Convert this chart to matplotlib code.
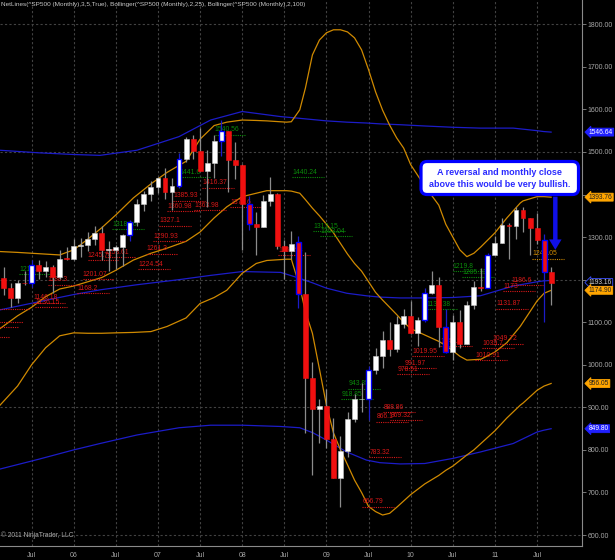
"""S&P 500 monthly candles with NetLines and two Bollinger bands (NinjaTrader look)."""

import matplotlib

matplotlib.use("Agg")
import matplotlib.pyplot as plt
from matplotlib import transforms
from matplotlib.patches import FancyBboxPatch

# month index: 0 = Jan 2006
MONTHS = list(range(-11, 69))
OPEN = [1181.3, 1203.6, 1180.6, 1156.9, 1191.5, 1191.3, 1234.2, 1220.3, 1228.8, 1207.0, 1249.5,
        1248.3, 1280.1, 1280.7, 1294.9, 1310.6, 1270.1, 1270.2, 1276.7, 1303.8, 1335.8, 1377.9, 1400.6,
        1418.3, 1438.2, 1406.8, 1420.9, 1482.4, 1530.6, 1503.4, 1455.3, 1474.0, 1526.8, 1549.4, 1481.1,
        1468.4, 1378.6, 1330.6, 1322.7, 1385.6, 1400.4, 1280.0, 1267.4, 1287.8, 1166.4, 968.8, 896.2,
        903.3, 825.9, 735.1, 797.9, 872.8, 919.1, 919.3, 987.5, 1020.6, 1057.1, 1036.2, 1095.6,
        1115.1, 1073.9, 1104.5, 1169.4, 1186.7, 1089.4, 1030.7, 1101.6, 1049.3, 1141.2, 1183.3, 1180.6,
        1257.6, 1286.1, 1327.2, 1325.8, 1363.6, 1345.2, 1320.6, 1292.3, 1218.9]
HIGH = [1212.4, 1229.1, 1191.9, 1199.6, 1219.6, 1245.2, 1245.9, 1243.1, 1233.3, 1270.6, 1275.8,
        1294.9, 1297.6, 1310.9, 1326.7, 1326.7, 1290.7, 1280.4, 1306.7, 1340.0, 1389.5, 1407.9, 1431.8,
        1441.6, 1461.6, 1438.9, 1498.0, 1535.6, 1540.6, 1555.9, 1503.9, 1538.7, 1576.1, 1549.4, 1523.6,
        1471.8, 1396.0, 1359.7, 1397.8, 1440.2, 1404.0, 1292.2, 1313.2, 1303.0, 1264.3, 1007.5, 918.9,
        943.9, 875.0, 833.0, 888.7, 930.2, 956.2, 996.7, 1039.5, 1080.2, 1101.4, 1113.7, 1130.4,
        1150.5, 1112.4, 1180.7, 1219.8, 1205.1, 1131.2, 1115.8, 1129.2, 1148.7, 1196.1, 1227.1, 1262.6,
        1302.7, 1344.1, 1332.3, 1370.6, 1370.6, 1345.2, 1356.5, 1307.4, 1229.3]
LOW = [1180.0, 1163.7, 1136.2, 1146.2, 1188.3, 1183.6, 1201.1, 1205.4, 1168.2, 1201.1, 1246.6,
       1245.7, 1253.6, 1268.4, 1280.6, 1245.3, 1219.3, 1224.5, 1233.2, 1290.9, 1327.1, 1361.0, 1385.9,
       1403.9, 1389.4, 1364.0, 1416.4, 1476.7, 1484.2, 1454.3, 1370.6, 1439.3, 1489.6, 1406.1, 1435.7,
       1270.1, 1316.8, 1257.0, 1322.7, 1373.1, 1272.0, 1200.4, 1248.6, 1133.5, 839.8, 741.0, 815.7,
       804.5, 734.5, 666.8, 783.3, 866.1, 888.9, 869.3, 978.5, 992.0, 1020.0, 1029.4, 1085.9,
       1071.6, 1044.5, 1101.0, 1167.0, 1040.8, 1028.3, 1010.9, 1039.7, 1049.3, 1131.9, 1173.0, 1180.6,
       1257.6, 1286.1, 1249.1, 1294.7, 1311.8, 1258.1, 1282.9, 1101.5, 1140.1]
CLOSE = [1203.6, 1180.6, 1156.9, 1191.5, 1191.3, 1234.2, 1220.3, 1228.8, 1207.0, 1249.5, 1248.3,
         1280.1, 1280.7, 1294.9, 1310.6, 1270.1, 1270.2, 1276.7, 1303.8, 1335.8, 1377.9, 1400.6, 1418.3,
         1438.2, 1406.8, 1420.9, 1482.4, 1530.6, 1503.4, 1455.3, 1474.0, 1526.8, 1549.4, 1481.1, 1468.4,
         1378.6, 1330.6, 1322.7, 1385.6, 1400.4, 1280.0, 1267.4, 1282.8, 1166.4, 968.8, 896.2, 903.3,
         825.9, 735.1, 797.9, 872.8, 919.1, 919.3, 987.5, 1020.6, 1057.1, 1036.2, 1095.6, 1115.1,
         1073.9, 1104.5, 1169.4, 1186.7, 1089.4, 1030.7, 1101.6, 1049.3, 1141.2, 1183.3, 1180.6, 1257.6,
         1286.1, 1327.2, 1325.8, 1363.6, 1345.2, 1320.6, 1292.3, 1218.9, 1193.2]
SIGNAL_MONTHS = [-6, 8, 15, 21, 25, 32, 42, 50, 53, 59, 67]

# Bollinger(2,25)
BB25_M = [-10.5, -8, -6, -4, -2, 0, 2, 4, 6, 8.5, 11, 13.3, 16, 18, 20, 21.8, 24, 26, 27.5, 30.3,
          31, 32.2, 33, 34, 35, 36, 37, 38, 39, 40, 41, 42, 43, 44, 45, 46, 47, 48, 50, 52, 53, 54,
          55, 56, 57, 58, 60, 61.7, 63.6, 64, 66, 67, 68]
BB25_UP = [1266, 1264, 1262, 1260, 1258, 1270, 1295, 1322, 1352, 1392, 1425, 1452, 1478, 1530, 1562, 1570,
           1575, 1574, 1573, 1570, 1571, 1599, 1650, 1728, 1763, 1780, 1787, 1787, 1782, 1768, 1740, 1693,
           1641, 1598, 1563, 1533, 1509, 1470, 1420, 1375, 1330, 1300, 1270, 1254, 1262, 1277, 1310, 1345,
           1380, 1385, 1395, 1395, 1393.76]
BB25_MID = [1085, 1115, 1135, 1160, 1178, 1185, 1195, 1205, 1222, 1246, 1262, 1274, 1290, 1312, 1345, 1371,
            1395, 1403, 1409, 1409, 1408, 1403, 1388, 1368, 1350, 1330, 1310, 1285, 1260, 1238, 1220, 1195,
            1170, 1152, 1135, 1118, 1100, 1085, 1070, 1055, 1045, 1033, 1020, 1011, 1012, 1013, 1030, 1052,
            1090, 1100, 1150, 1168, 1174.9]
BB25_LOW = [905, 950, 1000, 1040, 1068, 1075, 1074, 1074, 1075, 1076, 1078, 1090, 1110, 1144, 1158, 1175,
            1215, 1238, 1245, 1248, 1248, 1183, 1125, 1074, 990, 905, 840, 800, 765, 729, 700, 667,
            655, 647, 651, 665, 680, 695, 720, 740, 752, 762, 775, 788, 800, 815, 845, 875, 905, 910, 940,
            950, 956.05]

# Bollinger(2,100)
BB100_M = [-10.5, -5, 0, 3.75, 9, 15, 19.5, 24, 29.5, 32.2, 34.1, 36, 38.9, 41.7, 43.6, 46.5, 50, 54,
           57.9, 62.6, 66, 66.9, 68]
BB100_UP = [1504, 1498, 1494, 1492, 1504, 1536, 1575, 1595, 1583, 1579, 1576, 1573, 1570, 1568, 1566,
            1564, 1561, 1558, 1556, 1556, 1550, 1548, 1546.64]
BB100_MID = [1129, 1148, 1165, 1176, 1188, 1200, 1210, 1219, 1217, 1203, 1192, 1180, 1168, 1162, 1159,
             1157, 1157, 1158, 1162, 1185, 1195, 1197, 1198.2]
BB100_LOW = [755, 778, 800, 815, 835, 852, 858, 858, 855, 852, 840, 823, 795, 776, 770, 767, 768, 780,
             795, 815, 842, 846, 849.8]

# NetLines labels: (text, start month, level, kind)
NET_LABELS = [
    ("1212.4", -7.8, 1212.4, "hi"), ("1188.3", -3.7, 1188.3, "lo"), ("1146.18", -5.8, 1146.18, "lo"),
    ("1136.15", -5.5, 1136.15, "lo"), ("1168.2", 0.5, 1168.2, "lo"), ("1201.07", 1.3, 1201.07, "lo"),
    ("1245.74", 2.0, 1245.74, "lo"), ("1253.61", 4.4, 1253.61, "lo"), ("1318.16", 5.5, 1318.16, "hi"),
    ("1224.54", 9.2, 1224.54, "lo"), ("1261.3", 10.4, 1261.3, "lo"), ("1290.93", 11.3, 1290.93, "lo"),
    ("1327.1", 12.2, 1327.1, "lo"), ("1360.98", 13.3, 1360.98, "lo"), ("1385.93", 14.2, 1385.93, "lo"),
    ("1441.6", 15.1, 1441.6, "hi"), ("1363.98", 17.2, 1363.98, "lo"), ("1416.37", 18.3, 1416.37, "lo"),
    ("1540.56", 20.1, 1540.56, "hi"), ("1370.6", 22.3, 1370.6, "lo"), ("1256.98", 29.1, 1256.98, "lo"),
    ("1440.24", 31.1, 1440.24, "hi"), ("1313.15", 34.1, 1313.15, "hi"), ("1303.04", 35.1, 1303.04, "hi"),
    ("918.85", 38.1, 918.85, "hi"), ("943.85", 39.1, 943.85, "hi"), ("666.79", 41.1, 666.79, "lo"),
    ("783.32", 42.1, 783.32, "lo"), ("866.1", 43.1, 866.1, "lo"), ("888.86", 44.1, 888.86, "lo"),
    ("869.32", 45.1, 869.32, "lo"), ("978.51", 46.1, 978.51, "lo"), ("991.97", 47.1, 991.97, "lo"),
    ("1019.95", 48.2, 1019.95, "lo"), ("1130.38", 50.3, 1130.38, "hi"), ("1044.5", 52.2, 1044.5, "lo"),
    ("1219.8", 54.0, 1219.8, "hi"), ("1205.13", 55.3, 1205.13, "hi"), ("1010.91", 57.2, 1010.91, "lo"),
    ("1039.7", 58.2, 1039.7, "lo"), ("1049.72", 59.7, 1049.72, "lo"), ("1131.87", 60.2, 1131.87, "lo"),
    ("1173", 61.2, 1173.0, "lo"), ("1186.6", 62.3, 1186.6, "lo"), ("1249.05", 65.3, 1249.05, "cur"),
]
STUB_LEVELS = [1130, 1100, 1088, 1065]
STUB_ENDS = [-6.2, -7.2, -8.0, -9.2]

TAG_VALUES = ["1546.64", "1393.76", "1193.16", "1174.90", "956.05", "849.80"]
TAG_KINDS = ["blue", "orange", "price", "orange", "orange", "blue"]

XTICK_M = [-6, 0, 6, 12, 18, 24, 30, 36, 42, 48, 54, 60, 66]
XTICK_LABELS = ["Jul", "06", "Jul", "07", "Jul", "08", "Jul", "09", "Jul", "10", "Jul", "11", "Jul"]
YTICKS = list(range(600, 1801, 100))
HIDDEN_YTICKS = [1200, 1400]  # covered by the value tags in the original
HGRID = [600, 900, 1200, 1500, 1800]

TITLE = ("NetLines(^SP500 (Monthly),3,5,True), Bollinger(^SP500 (Monthly),2,25), "
         "Bollinger(^SP500 (Monthly),2,100)")
NOTE = "A reversal and monthly close\nabove this would be very bullish."

_FONT = "Liberation Sans"
_AXIS = "#8a8a8a"
_TXT = "#a8a8a8"
_GRIDC = "#424242"
_ORANGE = "#d08a00"
_BLUE = "#1c1cc8"
_RED = "#f01010"
_LRED = "#d81818"
_GREEN = "#0a8a0a"
_WICK = "#8c8c8c"

plt.rcParams["font.family"] = [_FONT, "DejaVu Sans"]

fig = plt.figure(figsize=(6.15, 5.6), dpi=100, facecolor="black")
ax = fig.add_axes([0, 1 - 546 / 560, 582 / 615, 546 / 560])
ax.set_facecolor("black")
ax.set_xlim(-10.5, 72.4)
ax.set_ylim(574.2, 1857)

# grid
for m in XTICK_M:
    ax.axvline(m, color=_GRIDC, lw=0.8, ls=(0, (2, 2)), zorder=0)
for v in HGRID:
    ax.axhline(v, color=_GRIDC, lw=0.8, ls=(0, (2, 2)), zorder=0)

# bands
for ys in (BB100_UP, BB100_MID, BB100_LOW):
    ax.plot(BB100_M, ys, color=_BLUE, lw=0.9, zorder=1)
for ys in (BB25_UP, BB25_MID, BB25_LOW):
    ax.plot(BB25_M, ys, color=_ORANGE, lw=0.9, zorder=1)

# NetLines
for m, v in zip(STUB_ENDS, STUB_LEVELS):
    ax.hlines(v, -11, m, color=_LRED, lw=0.8, ls=(0, (1, 1)), zorder=2)
for text, m0, v, kind in NET_LABELS:
    col = {"hi": _GREEN, "lo": _LRED, "cur": _ORANGE}[kind]
    ax.hlines(v, m0, m0 + 4.5, color=col, lw=0.8, ls=(0, (1, 1)), zorder=2)
    ax.text(m0, v + 3, text, color=col, fontsize=4.9, ha="left", va="bottom", zorder=2)

# candles
for m, o, h, lo, c in zip(MONTHS, OPEN, HIGH, LOW, CLOSE):
    sig = m in SIGNAL_MONTHS
    up = c >= o
    ax.vlines(m, lo, h, color=_BLUE if sig else _WICK, lw=0.9, zorder=3)
    face = "white" if up else _RED
    edge = "#0000ff" if sig else ("#c8c8c8" if up else _RED)
    ax.bar(m, max(abs(c - o), 1.5), bottom=min(o, c), width=0.7, color=face,
           edgecolor=edge, linewidth=1.0 if sig else 0.4, zorder=4)

# axes / ticks
for s in ("left", "top"):
    ax.spines[s].set_visible(False)
ax.spines["right"].set_color(_AXIS)
ax.spines["bottom"].set_color(_AXIS)
ax.yaxis.tick_right()
ax.set_yticks(YTICKS)
ax.set_yticklabels(["" if v in HIDDEN_YTICKS else f"{v:.2f}" for v in YTICKS])
ax.set_xticks(XTICK_M)
ax.set_xticklabels(XTICK_LABELS)
ax.tick_params(axis="y", colors=_AXIS, labelcolor=_TXT, labelsize=5, length=3, width=0.6, pad=1)
ax.tick_params(axis="x", colors=_AXIS, labelcolor=_TXT, labelsize=5, length=0, pad=4)

ax.text(0.001, 0.997, TITLE, transform=ax.transAxes, color="#c8c8c8", fontsize=4.6,
        ha="left", va="top")
ax.text(0.001, 0.012, "\u00a9 2011 NinjaTrader, LLC", transform=ax.transAxes, color=_TXT,
        fontsize=4.8, ha="left", va="bottom")

# right-hand value tags
blend = transforms.blended_transform_factory(ax.transAxes, ax.transData)
for txt, kind in zip(TAG_VALUES, TAG_KINDS):
    fc, ec, tc = {"blue": ("#2020ff", "#2020ff", "white"),
                  "orange": ("#ffa500", "#ffa500", "#202020"),
                  "price": ("black", "#3c50ff", "#d0d0d0")}[kind]
    ax.text(1.012, float(txt), txt, transform=blend, fontsize=4.8, color=tc, ha="left",
            va="center", clip_on=False, zorder=6,
            bbox=dict(boxstyle="larrow,pad=0.07", fc=fc, ec=ec, lw=0.6))

# annotation box (placed in figure inches) and arrow
box = FancyBboxPatch((4.21, 3.655), 1.575, 0.33, boxstyle="round,pad=0,rounding_size=0.06",
                     transform=fig.dpi_scale_trans, fc="white", ec="#0000ff", lw=2.3,
                     zorder=7, clip_on=False)
fig.patches.append(box)
fig.text(4.995 / 6.15, 1 - 178.5 / 560, NOTE, color="#2a2aff", fontsize=6.5, fontweight="bold",
         ha="center", va="center", linespacing=1.3, zorder=8)
ax.annotate("", xy=(68.6, 1270), xytext=(68.6, 1395), zorder=7,
            arrowprops=dict(width=3.2, headwidth=9, headlength=7.5, color="#1010e8", lw=0))

fig.savefig("out.png", dpi=100, facecolor="black")
